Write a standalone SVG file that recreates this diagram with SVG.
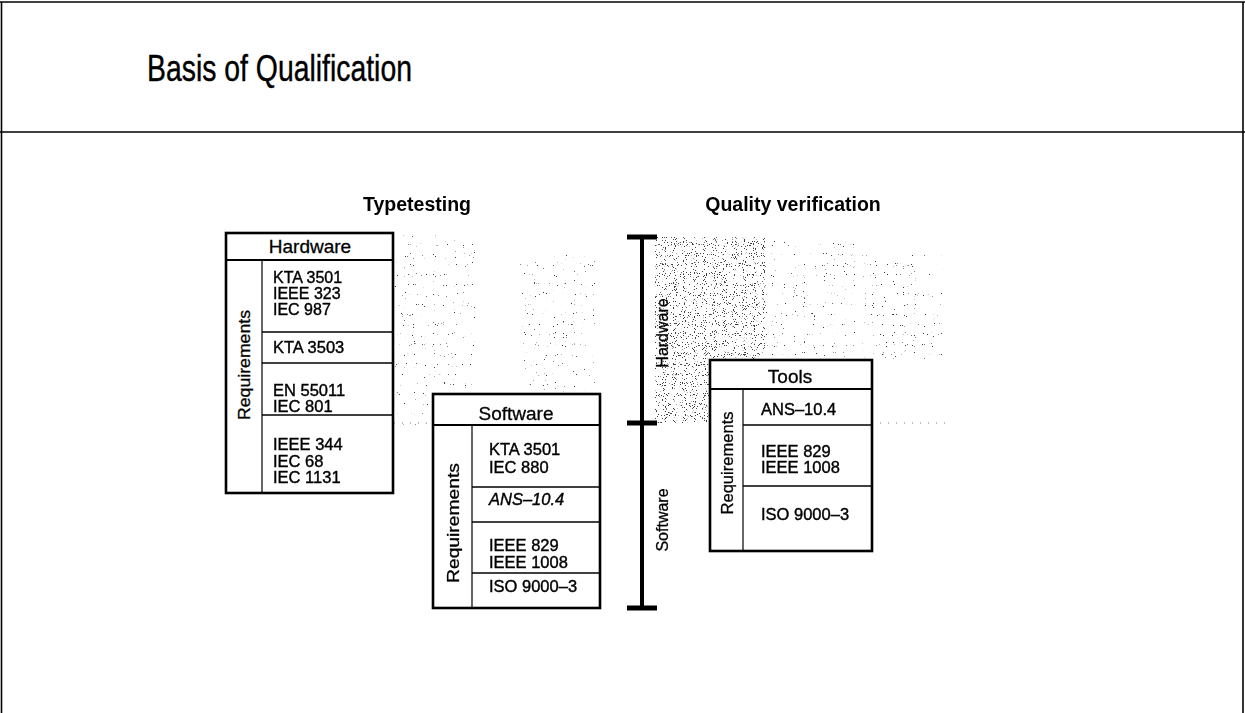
<svg xmlns="http://www.w3.org/2000/svg" width="1245" height="713" viewBox="0 0 1245 713">
<style>
  text { font-family: "Liberation Sans", Arial, Helvetica, sans-serif; fill: #000; }
  .title { font-size: 36px; stroke: #000; stroke-width: 0.4; }
  .section { font-size: 19.5px; font-weight: bold; text-anchor: middle; }
  .head { font-size: 19px; text-anchor: middle; stroke: #000; stroke-width: 0.3; }
  .item { font-size: 16.5px; stroke: #000; stroke-width: 0.4; }
  .req { font-size: 17px; text-anchor: middle; stroke: #000; stroke-width: 0.3; }
  .axislbl { font-size: 16px; text-anchor: middle; stroke: #000; stroke-width: 0.3; }
  .frame { fill: none; stroke: #000; stroke-width: 1.6; }
  .box { fill: #fff; stroke: #000; stroke-width: 2.6; }
  .hline { stroke: #000; stroke-width: 2; }
  .div { stroke: #000; stroke-width: 1.5; }
  .vline { stroke: #000; stroke-width: 1.2; }
  .axis { stroke: #000; stroke-width: 4; }
  .cap { stroke: #000; stroke-width: 5; }
</style>
<defs>
  <filter id="dense" x="0" y="0" width="100%" height="100%">
    <feTurbulence type="fractalNoise" baseFrequency="0.9" numOctaves="1" seed="7" result="n"/>
    <feColorMatrix in="n" type="matrix" values="0 0 0 0 0  0 0 0 0 0  0 0 0 0 0  25 0 0 0 -15.6" result="d"/>
    <feComposite in="d" in2="SourceAlpha" operator="in"/>
  </filter>
  <filter id="light" x="0" y="0" width="100%" height="100%">
    <feTurbulence type="fractalNoise" baseFrequency="0.9" numOctaves="1" seed="11" result="n"/>
    <feColorMatrix in="n" type="matrix" values="0 0 0 0 0  0 0 0 0 0  0 0 0 0 0  25 0 0 0 -17.8" result="d"/>
    <feComposite in="d" in2="SourceAlpha" operator="in"/>
  </filter>
</defs>
<rect width="1245" height="713" fill="#fff"/>

<g id="frame">
  <line class="frame" x1="0" y1="2" x2="1245" y2="2"/>
  <line class="frame" x1="1.5" y1="2" x2="1.5" y2="713"/>
  <line class="frame" x1="1243" y1="2" x2="1243" y2="713"/>
  <line class="frame" x1="0" y1="132" x2="1245" y2="132"/>
  <text class="title" x="147" y="81" textLength="265" lengthAdjust="spacingAndGlyphs">Basis of Qualification</text>
</g>

<g id="stipple" opacity="0.75">
  <rect x="655" y="237" width="110" height="186" fill="#000" filter="url(#dense)"/>
  <rect x="765" y="240" width="90" height="118" fill="#000" filter="url(#light)"/>
  <rect x="395" y="235" width="80" height="190" fill="#000" filter="url(#light)"/>
  <rect x="520" y="255" width="75" height="150" fill="#000" filter="url(#light)"/>
  <rect x="862" y="255" width="80" height="105" fill="#000" filter="url(#light)"/>
  <line x1="290" y1="423" x2="430" y2="423" stroke="#555" stroke-width="1" stroke-dasharray="1 7"/>
  <line x1="540" y1="423" x2="600" y2="423" stroke="#555" stroke-width="1" stroke-dasharray="1 7"/>
  <line x1="872" y1="423" x2="945" y2="423" stroke="#555" stroke-width="1" stroke-dasharray="1 7"/>
</g>

<g id="section-labels">
  <text class="section" x="417" y="211">Typetesting</text>
  <text class="section" x="793" y="211">Quality verification</text>
</g>

<g id="connectors">
  <line class="axis" x1="642" y1="237" x2="642" y2="608"/>
  <line class="cap" x1="627" y1="237" x2="657" y2="237"/>
  <line class="cap" x1="627" y1="423" x2="657" y2="423"/>
  <line class="cap" x1="627" y1="608" x2="657" y2="608"/>
  <text class="axislbl" transform="translate(668 333) rotate(-90)">Hardware</text>
  <text class="axislbl" transform="translate(668 520) rotate(-90)">Software</text>
</g>

<g id="node-hardware">
  <rect class="box" x="226" y="233" width="167" height="260"/>
  <line class="hline" x1="226" y1="260" x2="393" y2="260"/>
  <line class="vline" x1="262" y1="260" x2="262" y2="493"/>
  <line class="div" x1="262" y1="332" x2="393" y2="332"/>
  <line class="div" x1="262" y1="363" x2="393" y2="363"/>
  <line class="div" x1="262" y1="415" x2="393" y2="415"/>
  <text class="head" x="310" y="253">Hardware</text>
  <text class="req" transform="translate(250 365) rotate(-90)" textLength="110" lengthAdjust="spacingAndGlyphs">Requirements</text>
  <text class="item" x="273" y="283" style="font-size:16px">KTA 3501<tspan x="273" dy="16">IEEE 323</tspan><tspan x="273" dy="16">IEC 987</tspan></text>
  <text class="item" x="273" y="353">KTA 3503</text>
  <text class="item" x="273" y="396">EN 55011<tspan x="273" dy="16">IEC 801</tspan></text>
  <text class="item" x="273" y="450">IEEE 344<tspan x="273" dy="16.5">IEC 68</tspan><tspan x="273" dy="16.5">IEC 1131</tspan></text>
</g>

<g id="node-software">
  <rect class="box" x="433" y="394" width="167" height="214"/>
  <line class="hline" x1="433" y1="425" x2="600" y2="425"/>
  <line class="vline" x1="472" y1="425" x2="472" y2="608"/>
  <line class="div" x1="472" y1="487" x2="600" y2="487"/>
  <line class="div" x1="472" y1="522" x2="600" y2="522"/>
  <line class="div" x1="472" y1="573" x2="600" y2="573"/>
  <text class="head" x="516" y="420">Software</text>
  <text class="req" transform="translate(459 523) rotate(-90)" textLength="120" lengthAdjust="spacingAndGlyphs">Requirements</text>
  <text class="item" x="489" y="455">KTA 3501<tspan x="489" dy="18">IEC 880</tspan></text>
  <text class="item" x="489" y="505" font-style="italic">ANS–10.4</text>
  <text class="item" x="489" y="551">IEEE 829<tspan x="489" dy="17">IEEE 1008</tspan></text>
  <text class="item" x="489" y="592">ISO 9000–3</text>
</g>

<g id="node-tools">
  <rect class="box" x="710" y="360" width="162" height="191"/>
  <line class="hline" x1="710" y1="389" x2="872" y2="389"/>
  <line class="vline" x1="743" y1="389" x2="743" y2="551"/>
  <line class="div" x1="743" y1="425" x2="872" y2="425"/>
  <line class="div" x1="743" y1="486" x2="872" y2="486"/>
  <text class="head" x="790" y="383">Tools</text>
  <text class="req" transform="translate(733 463) rotate(-90)" textLength="103" lengthAdjust="spacingAndGlyphs">Requirements</text>
  <text class="item" x="761" y="415">ANS–10.4</text>
  <text class="item" x="761" y="457">IEEE 829<tspan x="761" dy="16">IEEE 1008</tspan></text>
  <text class="item" x="761" y="520">ISO 9000–3</text>
</g>
</svg>
